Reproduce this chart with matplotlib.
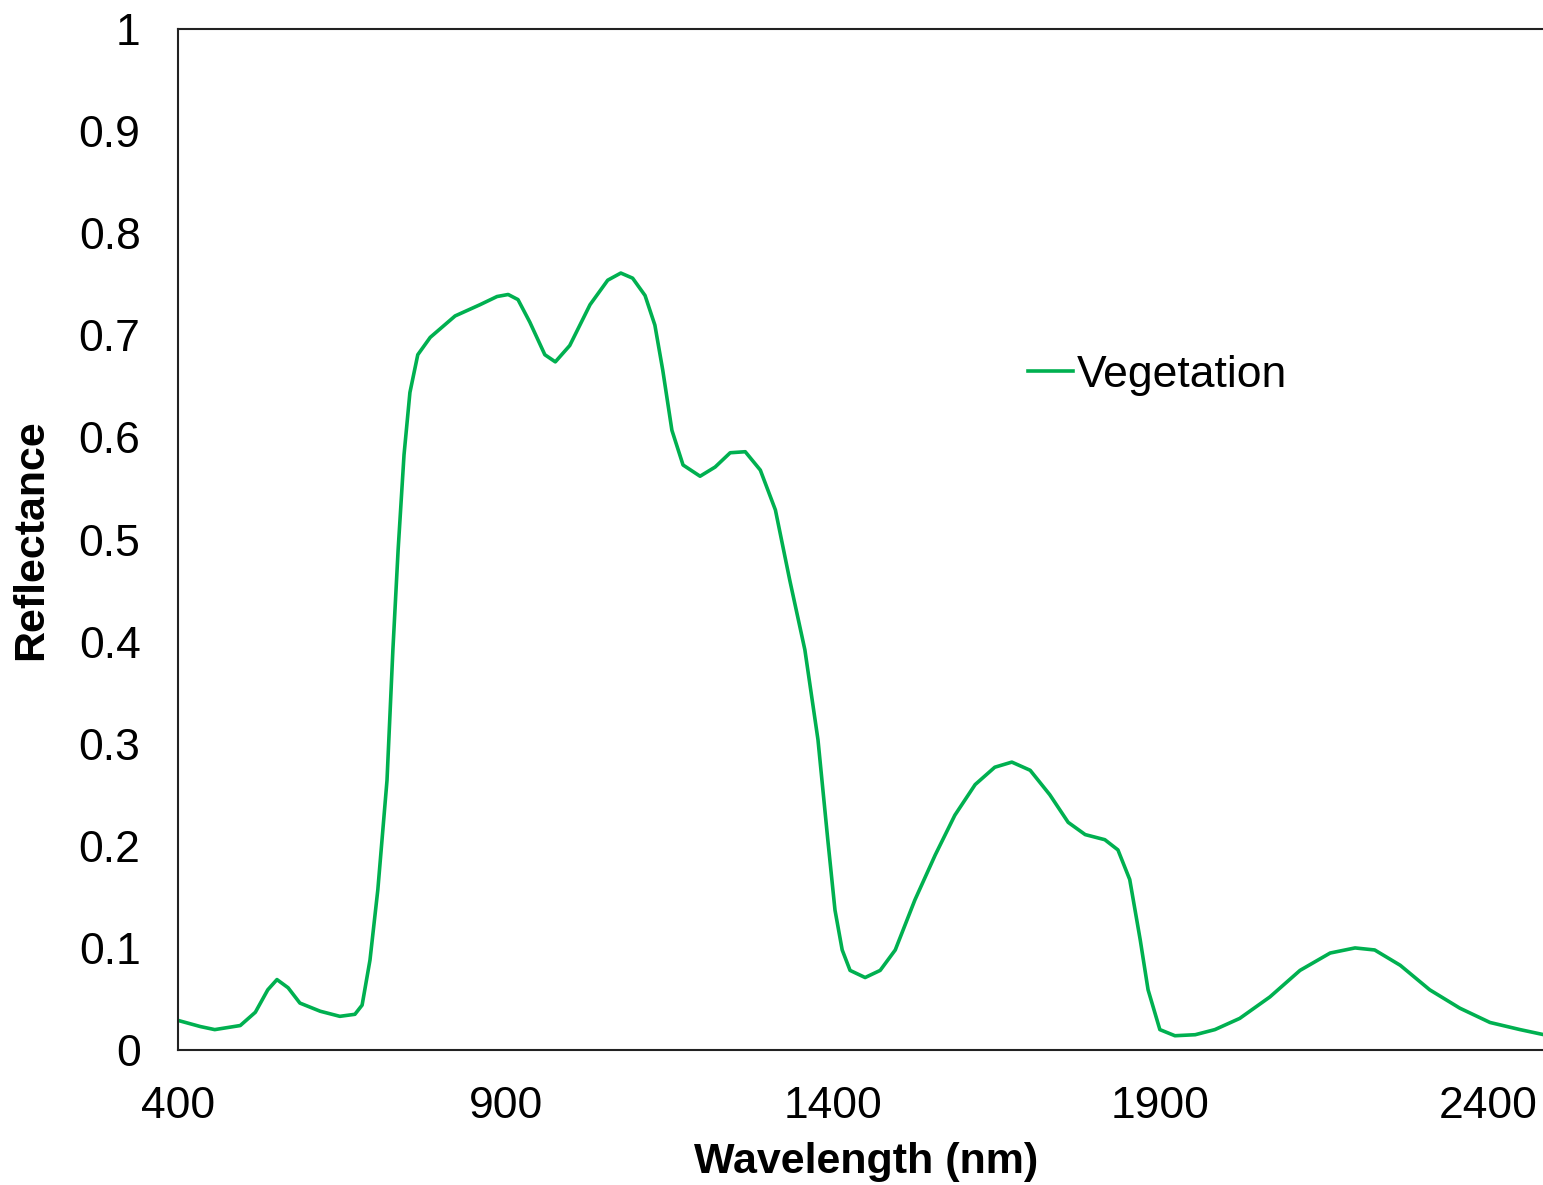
import numpy as np
import matplotlib.pyplot as plt

plt.rcParams['font.family'] = ['Liberation Sans', 'DejaVu Sans']

# Vegetation reflectance spectrum
wavelength = [400, 434, 456, 495, 518, 537, 551, 568, 586, 617, 647, 670, 681,
              693, 705, 719, 728, 736, 745, 754, 766, 785, 823, 861, 887, 904,
              919, 937, 960, 976, 998, 1029, 1056, 1076, 1094, 1113, 1128, 1140,
              1154, 1171, 1197, 1220, 1243, 1266, 1289, 1312, 1334, 1357, 1377,
              1392, 1403, 1414, 1426, 1449, 1472, 1495, 1525, 1556, 1586, 1617,
              1647, 1673, 1701, 1731, 1759, 1785, 1815, 1835, 1853, 1869, 1881,
              1899, 1922, 1953, 1983, 2021, 2067, 2113, 2159, 2197, 2227, 2266,
              2311, 2357, 2403, 2449, 2500]
reflectance = [0.029, 0.023, 0.020, 0.024, 0.037, 0.059, 0.069, 0.061, 0.046,
               0.038, 0.033, 0.035, 0.044, 0.088, 0.157, 0.264, 0.392, 0.490,
               0.583, 0.644, 0.681, 0.698, 0.719, 0.730, 0.738, 0.740, 0.735,
               0.713, 0.681, 0.674, 0.690, 0.730, 0.754, 0.761, 0.756, 0.739,
               0.710, 0.666, 0.607, 0.573, 0.562, 0.571, 0.585, 0.586, 0.568,
               0.529, 0.460, 0.392, 0.304, 0.206, 0.137, 0.098, 0.078, 0.071,
               0.078, 0.098, 0.147, 0.191, 0.230, 0.260, 0.277, 0.282, 0.274,
               0.250, 0.223, 0.211, 0.206, 0.196, 0.167, 0.108, 0.059, 0.020,
               0.014, 0.015, 0.020, 0.031, 0.052, 0.078, 0.095, 0.100, 0.098,
               0.083, 0.059, 0.041, 0.027, 0.020, 0.013]

x_ticks = [400, 900, 1400, 1900, 2400]
y_ticks = [0, 0.1, 0.2, 0.3, 0.4, 0.5, 0.6, 0.7, 0.8, 0.9, 1]
y_tick_labels = ['0', '0.1', '0.2', '0.3', '0.4', '0.5', '0.6', '0.7', '0.8', '0.9', '1']

fig = plt.figure(figsize=(15.43, 11.85), dpi=100)
ax = fig.add_axes([0.1154, 0.1139, 0.8914, 0.8616])

ax.plot(wavelength, reflectance, color='#00B050', linewidth=2.6,
        solid_joinstyle='round', label='Vegetation')

ax.set_xlim(400, 2500)
ax.set_ylim(0, 1)
ax.set_xticks(x_ticks)
ax.set_yticks(y_ticks)
ax.set_yticklabels(y_tick_labels)
ax.tick_params(axis='both', length=0, labelsize=32)
ax.tick_params(axis='y', pad=27)
ax.tick_params(axis='x', pad=26)

for s in ax.spines.values():
    s.set_linewidth(1.5)
    s.set_color('#222222')

ax.set_xlabel('Wavelength (nm)', fontsize=31, fontweight='bold', labelpad=11)
ax.set_ylabel('Reflectance', fontsize=31, fontweight='bold', labelpad=20)

ax.legend(loc='upper left', bbox_to_anchor=(0.589, 0.72), frameon=False,
          fontsize=32, handlelength=1.0, handletextpad=0.1)

fig.savefig('out.png', dpi=100)
